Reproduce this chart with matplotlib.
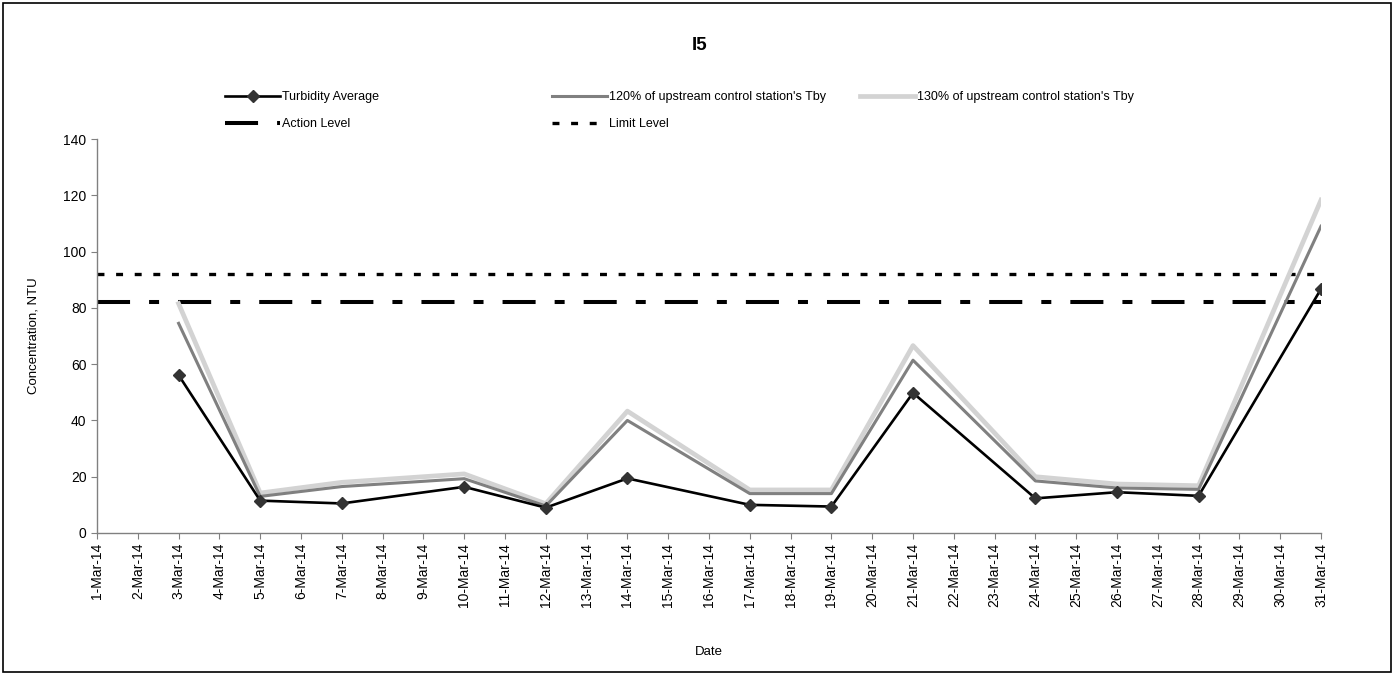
import matplotlib

matplotlib.use('Agg')
import matplotlib.pyplot as plt
import matplotlib.dates as mdates
from matplotlib.patches import Rectangle
import pandas as pd

plt.rcParams['font.family'] = ['Liberation Sans', 'DejaVu Sans']
plt.rcParams['lines.scale_dashes'] = False

# sampling days in March 2014
sample_dates = ['2014-03-03', '2014-03-05', '2014-03-07', '2014-03-10', '2014-03-12',
                '2014-03-14', '2014-03-17', '2014-03-19', '2014-03-21', '2014-03-24',
                '2014-03-26', '2014-03-28', '2014-03-31']
turbidity_avg = [56.1, 11.5, 10.5, 16.4, 9.0, 19.4, 10.0, 9.4, 49.8, 12.3, 14.5, 13.2, 86.7]
upstream_120 = [74.5, 13.0, 16.5, 19.3, 9.6, 40.0, 14.0, 14.0, 61.4, 18.5, 16.0, 15.5, 109.0]
upstream_130 = [81.5, 14.2, 18.0, 21.0, 10.4, 43.3, 15.3, 15.3, 66.6, 20.0, 17.4, 16.8, 118.3]
action_level = 82
limit_level = 92

date_start = '2014-03-01'
date_end = '2014-03-31'
y_ticks = [0, 20, 40, 60, 80, 100, 120, 140]

W, H = 1395, 675
fig = plt.figure(figsize=(W / 100, H / 100), dpi=100)
fig.add_artist(Rectangle((3 / W, 3 / H), (W - 7) / W, (H - 6) / H, transform=fig.transFigure,
                         fill=False, edgecolor='black', linewidth=1.2))

ax = fig.add_axes([97 / W, 1 - 533 / H, (1321 - 97) / W, (533 - 139) / H])

x = pd.to_datetime(sample_dates)
d0, d1 = pd.Timestamp(date_start), pd.Timestamp(date_end)

h_act, = ax.plot([d0, d1], [action_level] * 2, color='black', lw=2.9,
                 linestyle=(0, (23.8, 13.7, 7.2, 13.7)), zorder=2)
h_lim, = ax.plot([d0, d1], [limit_level] * 2, color='black', lw=2.4,
                 linestyle=(0, (5.0, 8.4)), zorder=2)
h130, = ax.plot(x, upstream_130, color='#d3d3d3', lw=3.4, zorder=3)
h120, = ax.plot(x, upstream_120, color='#808080', lw=2.2, zorder=4)
htur, = ax.plot(x, turbidity_avg, color='black', lw=1.9, marker='D', markersize=6.5,
                markerfacecolor='#333333', markeredgecolor='#333333', zorder=5)

ax.set_xlim(d0, d1)
ax.set_ylim(0, 140)
ax.set_yticks(y_ticks)
ax.xaxis.set_major_locator(mdates.DayLocator())
ax.xaxis.set_major_formatter(mdates.DateFormatter('%-d-%b-%y'))
plt.setp(ax.get_xticklabels(), rotation=90)

for side in ['top', 'right']:
    ax.spines[side].set_visible(False)
for side in ['left', 'bottom']:
    ax.spines[side].set_color('#808080')
    ax.spines[side].set_linewidth(1.0)
ax.tick_params(axis='both', direction='out', length=4, color='#808080', labelsize=10,
               labelcolor='black')
ax.tick_params(axis='x', pad=3)

ax.set_ylabel('Concentration, NTU', fontsize=9.5)
ax.yaxis.set_label_coords(-0.047, 0.5)
fig.text(709 / W, 1 - 652 / H, 'Date', ha='center', va='center', fontsize=9.5)
fig.text(700 / W, 1 - 45 / H, 'I5', ha='center', va='center', fontsize=13.5, fontweight='bold')

leg_kw = dict(loc='upper left', frameon=False, borderpad=0, borderaxespad=0,
              handlelength=4.4, handletextpad=0.15, labelspacing=1.2, fontsize=9)
top = 1 - 91 / H
fig.legend([htur, h_act], ['Turbidity Average', 'Action Level'],
           bbox_to_anchor=(225 / W, top), **leg_kw)
fig.legend([h120, h_lim], ["120% of upstream control station's Tby", 'Limit Level'],
           bbox_to_anchor=(552 / W, top), **leg_kw)
fig.legend([h130], ["130% of upstream control station's Tby"],
           bbox_to_anchor=(860 / W, top), **leg_kw)

fig.savefig('out.png', dpi=100)
